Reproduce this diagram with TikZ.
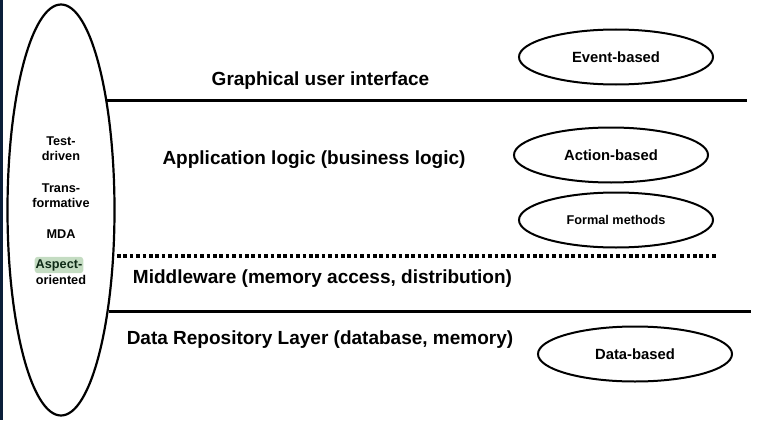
\documentclass[tikz,border=0pt]{standalone}
\usepackage{fontspec}
\setmainfont{Liberation Sans}
\usetikzlibrary{shapes.geometric}
\definecolor{EdgeBlue}{HTML}{0B1F3A}
\definecolor{SoftGreen}{HTML}{C4DCC2}
\definecolor{InkGreen}{HTML}{0E2A16}
\newcommand{\method}[5]{% nombre, x, y, tamano, texto
    \node[draw, ellipse, line width=2pt, minimum width=194pt, minimum height=55pt, inner sep=0pt,
          font=\fontsize{#4}{#4}\selectfont\bfseries] (#1) at (#2,#3) {#5};
}

\begin{document}
\begin{tikzpicture}[x=1pt, y=-1pt,
    layer/.style={font=\fontsize{19}{23}\selectfont\bfseries, anchor=base, inner sep=0pt},
    sep/.style={line width=3pt},
    tech/.style={font=\fontsize{12.7}{15}\selectfont\bfseries, align=center, inner sep=0pt}]

\useasboundingbox (0,0) rectangle (757,420);
\fill[EdgeBlue] (0,0) rectangle (2.5,420);

% desarrollo
\node[draw, ellipse, line width=2.2pt, minimum width=107pt, minimum height=411pt, inner sep=0pt] (dev) at (61,210) {};
\node[tech] (td) at (61,149) {Test-\\driven};
\node[tech] (tf) at (61,195.5) {Trans-\\formative};
\node[tech] (mda) at (61,234) {MDA};
\node[tech, fill=SoftGreen, text=InkGreen, rounded corners=3pt, inner xsep=1pt, inner ysep=2.5pt] (asp) at (59,265) {Aspect-};
\node[tech] (ori) at (61,280) {oriented};

% capas
\node[layer] (gui) at (320.5,85) {Graphical user interface};
\node[layer] (app) at (314,164) {Application logic (business logic)};
\node[layer] (mid) at (322.5,283) {Middleware (memory access, distribution)};
\node[layer] (data) at (320,344) {Data Repository Layer (database, memory)};

\coordinate (guiEnd) at (747,102);
\coordinate (midStart) at (117,256);
\coordinate (midEnd) at (716,256);
\coordinate (dataEnd) at (751,313);
\draw[sep] (dev.67) -- (dev.67 -| guiEnd);
\draw[sep, line width=3.6pt, dash pattern=on 3.6pt off 2.8pt] (midStart) -- (midEnd);
\draw[sep] (dev.-65.5) -- (dev.-65.5 -| dataEnd);

% metodos
\method{event}{616}{57}{14.8}{Event-based}
\method{action}{611}{155}{14.8}{Action-based}
\method{formal}{616}{220}{12.7}{Formal methods}
\method{databased}{635}{354}{14.8}{Data-based}

\end{tikzpicture}
\end{document}
